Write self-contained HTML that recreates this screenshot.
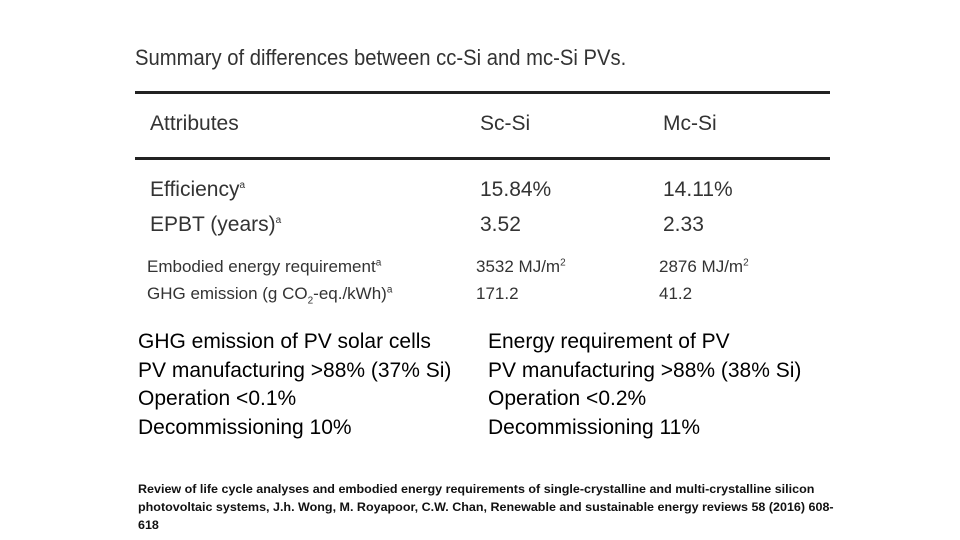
<!DOCTYPE html>
<html><head><meta charset="utf-8"><style>
body{margin:0;width:960px;height:540px;background:#fff;position:relative;overflow:hidden;font-family:"Liberation Sans",sans-serif;color:#111}
.a{position:absolute;white-space:nowrap}
.t{color:#333;font-size:21px}
.line{position:absolute;left:135px;width:695px;height:3px;background:#222}
.b{font-size:21px;color:#000}
sup{font-size:10px}
</style></head><body>
<div class="a t" style="left:135px;top:45px;font-size:22px;transform:scaleX(0.92);transform-origin:left">Summary of differences between cc-Si and mc-Si PVs.</div>
<div class="line" style="top:91px"></div>
<div class="line" style="top:157px"></div>
<div class="a t" style="left:150px;top:112px">Attributes</div>
<div class="a t" style="left:480px;top:112px">Sc-Si</div>
<div class="a t" style="left:663px;top:112px">Mc-Si</div>
<div class="a t" style="left:150px;top:178px">Efficiency<sup>a</sup></div>
<div class="a t" style="left:480px;top:178px">15.84%</div>
<div class="a t" style="left:663px;top:178px">14.11%</div>
<div class="a t" style="left:150px;top:213px">EPBT (years)<sup>a</sup></div>
<div class="a t" style="left:480px;top:213px">3.52</div>
<div class="a t" style="left:663px;top:213px">2.33</div>
<div class="a t" style="left:147px;top:257px;font-size:17px">Embodied energy requirement<sup>a</sup></div>
<div class="a t" style="left:476px;top:257px;font-size:17px">3532 MJ/m<sup>2</sup></div>
<div class="a t" style="left:659px;top:257px;font-size:17px">2876 MJ/m<sup>2</sup></div>
<div class="a t" style="left:147px;top:284px;font-size:17px">GHG emission (g CO<sub style="font-size:10px">2</sub>-eq./kWh)<sup>a</sup></div>
<div class="a t" style="left:476px;top:284px;font-size:17px">171.2</div>
<div class="a t" style="left:659px;top:284px;font-size:17px">41.2</div>
<div class="a b" style="left:138px;top:328px;line-height:28.7px">GHG emission of PV solar cells<br>PV manufacturing &gt;88% (37% Si)<br>Operation &lt;0.1%<br>Decommissioning 10%</div>
<div class="a b" style="left:488px;top:328px;line-height:28.7px">Energy requirement of PV<br>PV manufacturing &gt;88% (38% Si)<br>Operation &lt;0.2%<br>Decommissioning 11%</div>
<div class="a" style="left:138px;top:481px;font-size:11.6px;font-weight:bold;line-height:18px;transform:scaleX(1.08);transform-origin:left">Review of life cycle analyses and embodied energy requirements of single-crystalline and multi-crystalline silicon<br>photovoltaic systems, J.h. Wong, M. Royapoor, C.W. Chan, Renewable and sustainable energy reviews 58 (2016) 608-<br>618</div>
</body></html>
